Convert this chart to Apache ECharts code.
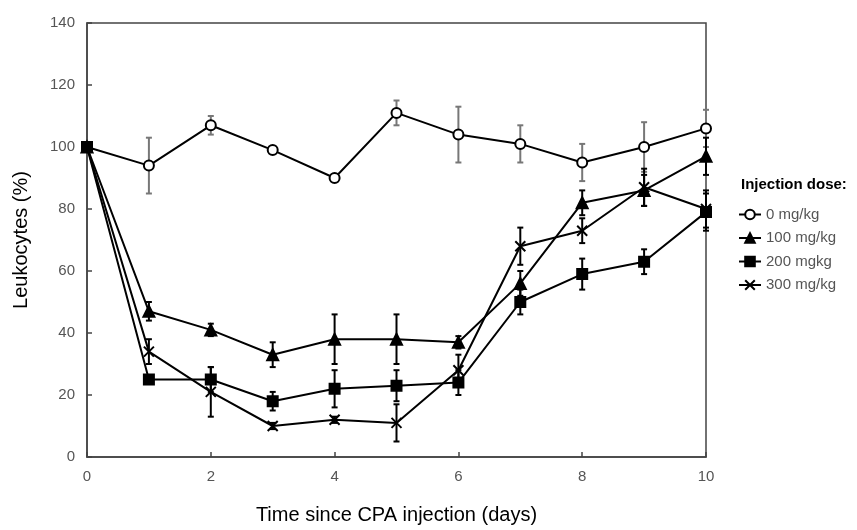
<!DOCTYPE html>
<html>
<head>
<meta charset="utf-8">
<title>Leukocytes</title>
<script src="https://cdn.jsdelivr.net/npm/echarts@6/dist/echarts.min.js"></script>
<style>
  html, body { margin: 0; padding: 0; background: #fff; }
  #chart { width: 857px; height: 530px; }
</style>
</head>
<body>
<div id="chart"></div>
<script>
var days = [0, 1, 2, 3, 4, 5, 6, 7, 8, 9, 10];
var names = ['0 mg/kg', '100 mg/kg', '200 mgkg', '300 mg/kg'];
var mean0 = [100, 94, 107, 99, 90, 111, 104, 101, 95, 100, 106];
var err0 = [0, 9, 3, 0, 0, 4, 9, 6, 6, 8, 6];
var mean100 = [100, 47, 41, 33, 38, 38, 37, 56, 82, 86, 97];
var err100 = [0, 3, 2, 4, 8, 8, 2, 4, 4, 5, 6];
var mean200 = [100, 25, 25, 18, 22, 23, 24, 50, 59, 63, 79];
var err200 = [0, 1, 4, 3, 6, 5, 4, 4, 5, 4, 6];
var mean300 = [100, 34, 21, 10, 12, 11, 28, 68, 73, 87, 80];
var err300 = [0, 4, 8, 1, 1, 6, 5, 6, 4, 6, 6];
var yTicks = [0, 20, 40, 60, 80, 100, 120, 140];

var dom = document.getElementById('chart');
var myChart = echarts.init(dom);
var font = 'Liberation Sans, Arial, sans-serif';

function pairs(m) {
    return days.map(function (d, i) { return [d, m[i]]; });
}
function errData(m, e) {
    return days.map(function (d, i) { return [d, m[i] - e[i], m[i] + e[i]]; });
}
// vertical error bars with small caps
function errSeries(m, e, color) {
    return {
        type: 'custom',
        z: 1,
        silent: true,
        data: errData(m, e),
        renderItem: function (params, api) {
            var lo = api.coord([api.value(0), api.value(1)]);
            var hi = api.coord([api.value(0), api.value(2)]);
            var w = 3;
            var st = { stroke: color, lineWidth: 2 };
            return {
                type: 'group',
                children: [
                    { type: 'line', shape: { x1: lo[0], y1: lo[1], x2: hi[0], y2: hi[1] }, style: st },
                    { type: 'line', shape: { x1: lo[0] - w, y1: lo[1], x2: lo[0] + w, y2: lo[1] }, style: st },
                    { type: 'line', shape: { x1: hi[0] - w, y1: hi[1], x2: hi[0] + w, y2: hi[1] }, style: st }
                ]
            };
        }
    };
}
function lineSeries(name, m, symbol, size, fill, z) {
    return {
        name: name,
        type: 'line',
        z: z,
        data: pairs(m),
        symbol: symbol,
        symbolSize: size,
        showAllSymbol: true,
        lineStyle: { color: '#000', width: 2 },
        itemStyle: { color: fill, borderColor: '#000', borderWidth: 2 }
    };
}

var option = {
    animation: false,
    title: {
        text: 'Injection dose:',
        left: 736,
        top: 172,
        textStyle: { fontSize: 15, fontWeight: 'bold', color: '#000', fontFamily: font }
    },
    legend: {
        orient: 'vertical',
        left: 733,
        top: 202,
        itemWidth: 22,
        itemHeight: 12,
        itemGap: 8.5,
        textStyle: { color: '#555', fontSize: 15, fontFamily: font },
        data: names
    },
    grid: {
        left: 87, right: 151, top: 23, bottom: 73,
        show: true,
        borderColor: '#444',
        borderWidth: 1.5,
        backgroundColor: 'transparent'
    },
    xAxis: {
        type: 'value',
        min: 0, max: 10, interval: 2,
        name: 'Time since CPA injection (days)',
        nameLocation: 'middle',
        nameGap: 48,
        nameTextStyle: { color: '#000', fontSize: 20, fontFamily: font },
        axisLine: { lineStyle: { color: '#444', width: 1.5 } },
        axisTick: { inside: true, length: 5, lineStyle: { color: '#444', width: 1.5 } },
        axisLabel: { color: '#555', fontSize: 15, margin: 12, fontFamily: font },
        splitLine: { show: false }
    },
    yAxis: {
        type: 'value',
        min: 0, max: 140, interval: 20,
        name: 'Leukocytes (%)',
        nameLocation: 'middle',
        nameGap: 56,
        nameTextStyle: { color: '#000', fontSize: 20, fontFamily: font },
        axisLine: { lineStyle: { color: '#444', width: 1.5 } },
        axisTick: { inside: true, length: 5, lineStyle: { color: '#444', width: 1.5 } },
        axisLabel: {
            color: '#555', fontSize: 15, margin: 12, fontFamily: font,
            formatter: function (v) { return yTicks.indexOf(v) >= 0 ? String(v) : ''; }
        },
        splitLine: { show: false }
    },
    series: [
        errSeries(mean0, err0, '#777'),
        errSeries(mean100, err100, '#000'),
        errSeries(mean200, err200, '#000'),
        errSeries(mean300, err300, '#000'),
        lineSeries(names[0], mean0, 'circle', 10, '#fff', 2),
        lineSeries(names[1], mean100, 'triangle', 11, '#000', 4),
        lineSeries(names[2], mean200, 'rect', 10, '#000', 5),
        lineSeries(names[3], mean300, 'path://M0,0L10,10M10,0L0,10', 10, 'none', 3)
    ]
};
option.series[7].itemStyle = { color: '#000', borderColor: '#000', borderWidth: 2 };

myChart.setOption(option);
</script>
</body>
</html>
